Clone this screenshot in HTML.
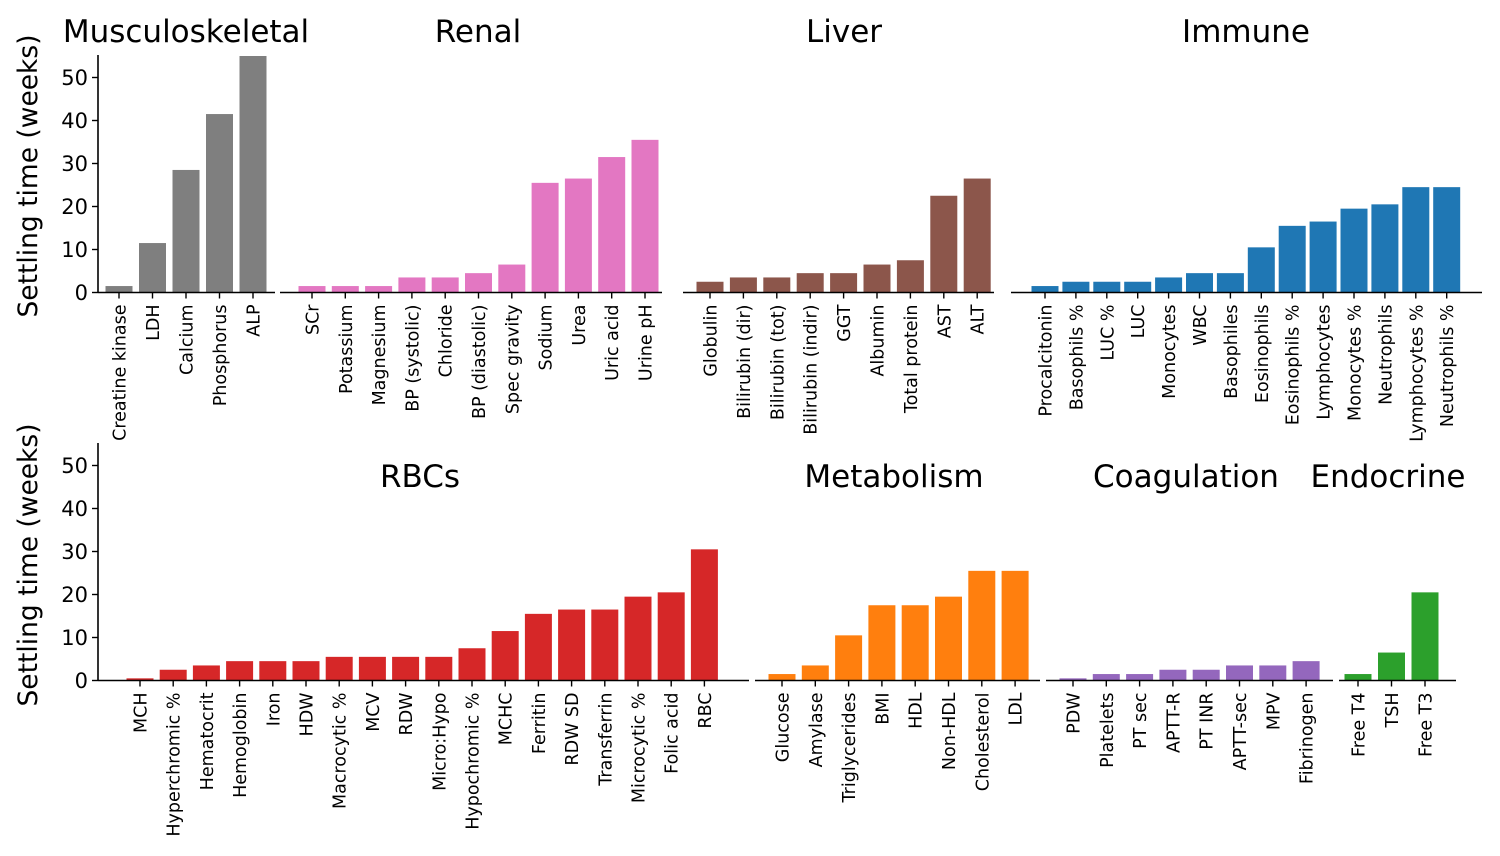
<!DOCTYPE html>
<html><head><meta charset="utf-8"><style>
html,body{margin:0;padding:0;background:#fff;}
svg{display:block;font-family:"DejaVu Sans","Liberation Sans",sans-serif;}
</style></head><body>
<svg id="chart" width="1500" height="856"></svg>
<script>
const muscCats=["Creatine kinase","LDH","Calcium","Phosphorus","ALP"];
const muscVals=[1.5,11.5,28.5,41.5,55];
const renalCats=["SCr","Potassium","Magnesium","BP (systolic)","Chloride","BP (diastolic)","Spec gravity","Sodium","Urea","Uric acid","Urine pH"];
const renalVals=[1.5,1.5,1.5,3.5,3.5,4.5,6.5,25.5,26.5,31.5,35.5];
const liverCats=["Globulin","Bilirubin (dir)","Bilirubin (tot)","Bilirubin (indir)","GGT","Albumin","Total protein","AST","ALT"];
const liverVals=[2.5,3.5,3.5,4.5,4.5,6.5,7.5,22.5,26.5];
const immuneCats=["Procalcitonin","Basophils %","LUC %","LUC","Monocytes","WBC","Basophiles","Eosinophils","Eosinophils %","Lymphocytes","Monocytes %","Neutrophils","Lymphocytes %","Neutrophils %"];
const immuneVals=[1.5,2.5,2.5,2.5,3.5,4.5,4.5,10.5,15.5,16.5,19.5,20.5,24.5,24.5];
const rbcCats=["MCH","Hyperchromic %","Hematocrit","Hemoglobin","Iron","HDW","Macrocytic %","MCV","RDW","Micro:Hypo","Hypochromic %","MCHC","Ferritin","RDW SD","Transferrin","Microcytic %","Folic acid","RBC"];
const rbcVals=[0.5,2.5,3.5,4.5,4.5,4.5,5.5,5.5,5.5,5.5,7.5,11.5,15.5,16.5,16.5,19.5,20.5,30.5];
const metabCats=["Glucose","Amylase","Triglycerides","BMI","HDL","Non-HDL","Cholesterol","LDL"];
const metabVals=[1.5,3.5,10.5,17.5,17.5,19.5,25.5,25.5];
const coagCats=["PDW","Platelets","PT sec","APTT-R","PT INR","APTT-sec","MPV","Fibrinogen"];
const coagVals=[0.5,1.5,1.5,2.5,2.5,3.5,3.5,4.5];
const endoCats=["Free T4","TSH","Free T3"];
const endoVals=[1.5,6.5,20.5];
const yTicks=[0,10,20,30,40,50];

const NS="http://www.w3.org/2000/svg";
const svg=document.getElementById('chart');
function mk(t,a,p){const e=document.createElementNS(NS,t);for(const k in a)e.setAttribute(k,a[k]);(p||svg).appendChild(e);return e;}
const rows=[{base:292.5,unit:4.3,top:55},{base:680.5,unit:4.3,top:443}];
function yScale(r,v){return rows[r].base-v*rows[r].unit;}

const groups=[
 {title:"Musculoskeletal",cats:muscCats,vals:muscVals,row:0,x0:119,pitch:33.5,s0:98,s1:275,color:"#7f7f7f",tx:186},
 {title:"Renal",cats:renalCats,vals:renalVals,row:0,x0:312,pitch:33.3,s0:280,s1:662,color:"#e377c2",tx:478},
 {title:"Liver",cats:liverCats,vals:liverVals,row:0,x0:710,pitch:33.4,s0:683,s1:994,color:"#8c564b",tx:844},
 {title:"Immune",cats:immuneCats,vals:immuneVals,row:0,x0:1045,pitch:30.9,s0:1011,s1:1482,color:"#1f77b4",tx:1246},
 {title:"RBCs",cats:rbcCats,vals:rbcVals,row:1,x0:140,pitch:33.2,s0:98,s1:749,color:"#d62728",tx:420},
 {title:"Metabolism",cats:metabCats,vals:metabVals,row:1,x0:782,pitch:33.3,s0:755,s1:1040,color:"#ff7f0e",tx:894},
 {title:"Coagulation",cats:coagCats,vals:coagVals,row:1,x0:1073,pitch:33.3,s0:1046,s1:1333,color:"#9467bd",tx:1186},
 {title:"Endocrine",cats:endoCats,vals:endoVals,row:1,x0:1358,pitch:33.5,s0:1339,s1:1456,color:"#2ca02c",tx:1388}
];

[0,1].forEach(r=>{
 const g=mk('g',{});
 
 
 mk('line',{x1:98,x2:98,y1:rows[r].top,y2:rows[r].base+0.5,stroke:'#000','stroke-width':1.6},g);
 yTicks.forEach(t=>{
  const y=yScale(r,t);
  mk('line',{x1:92,x2:98,y1:y,y2:y,stroke:'#000','stroke-width':1.4},g);
  const tx=mk('text',{x:88,y:y+7.5,'text-anchor':'end','font-size':21},g);
  tx.textContent=t;
 });
 const cy=r===0?176:565;
 const lab=mk('text',{x:0,y:0,'text-anchor':'middle','font-size':26.5,transform:`translate(37,${cy}) rotate(-90)`},g);
 
 
 lab.textContent="Settling time (weeks)";
});

groups.forEach(gr=>{
 const g=mk('g',{});
 
 
 const base=rows[gr.row].base;
 const tt=mk('text',{x:gr.tx,y:gr.row===0?42:487,'text-anchor':'middle','font-size':31},g);
 
 
 tt.textContent=gr.title;
 gr.vals.forEach((v,i)=>{
  const cx=gr.x0+i*gr.pitch;
  const y=yScale(gr.row,v);
  const b=mk('rect',{x:cx-13.5,y:y,width:27,height:base-y,fill:gr.color},g);
  
  
  mk('line',{x1:cx,x2:cx,y1:base,y2:base+6,stroke:'#000','stroke-width':1.4},g);
  const lt=mk('text',{x:0,y:0,'text-anchor':'end','font-size':17.5,transform:`translate(${cx+6.5},${base+12}) rotate(-90)`},g);
  
  
  lt.textContent=gr.cats[i];
 });
 mk('line',{x1:gr.s0,x2:gr.s1,y1:base,y2:base,stroke:'#000','stroke-width':1.6},g);
});
</script>
</body></html>
